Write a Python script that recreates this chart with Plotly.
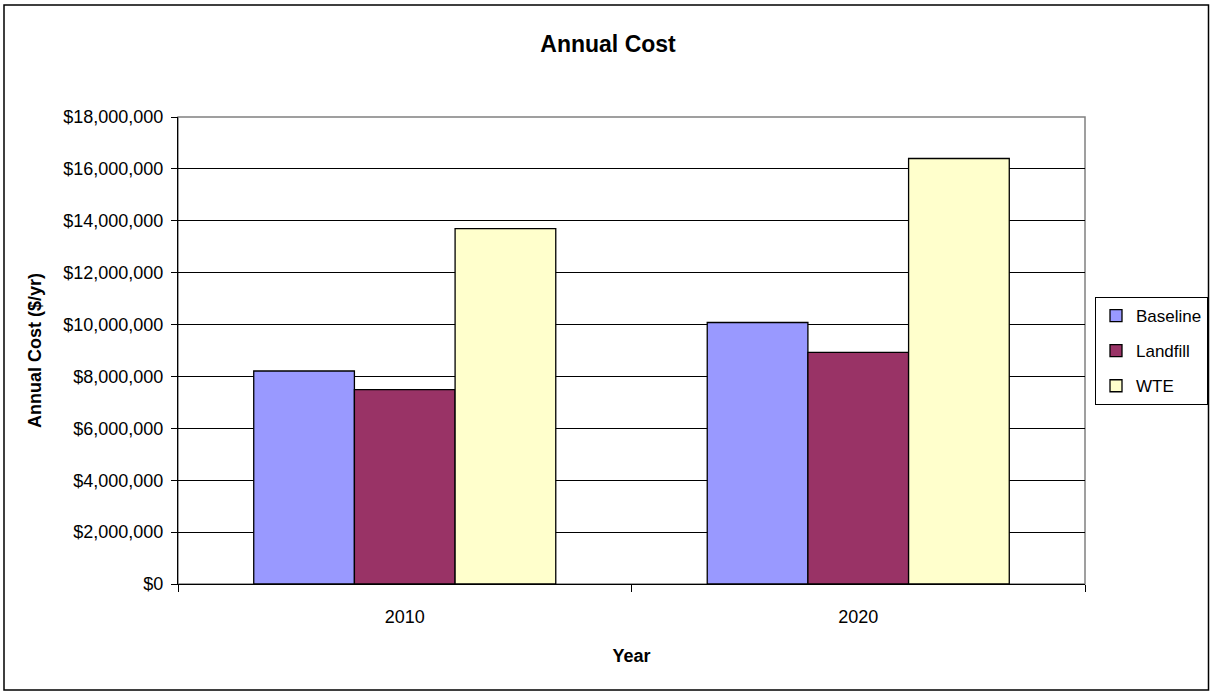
import plotly.graph_objects as go

years = ["2010", "2020"]
series_names = ["Baseline", "Landfill", "WTE"]
baseline = [8210000, 10080000]
landfill = [7490000, 8930000]
wte = [13700000, 16400000]
colors = ["#9999FF", "#993366", "#FFFFCC"]
y_ticks = list(range(0, 18000001, 2000000))

FONT = "Arial, Liberation Sans, sans-serif"

fig = go.Figure()
for name, vals, col in zip(series_names, [baseline, landfill, wte], colors):
    fig.add_trace(go.Bar(
        x=years, y=vals, name=name, legendgroup=name,
        marker=dict(color=col, line=dict(color="#000000", width=1.3)),
    ))

L, R, T, B = 178, 125, 117, 109
W, H = 1210, 693
pw, ph = W - L - R, H - T - B

def px_x(p):
    return (p - L) / pw

def px_y(p):
    return (H - B - p) / ph

fig.update_layout(
    width=W, height=H,
    margin=dict(l=L, r=R, t=T, b=B, autoexpand=False),
    paper_bgcolor="white", plot_bgcolor="white",
    font=dict(family=FONT, size=18, color="#000000"),
    barmode="group", bargap=0.334, bargroupgap=0,
    title=dict(text="<b>Annual Cost</b>", x=0.5025, xref="container",
               y=1 - 44 / H, yref="container", yanchor="middle", xanchor="center",
               font=dict(family=FONT, size=23, color="#000000")),
    legend=dict(x=px_x(1095), y=px_y(297), xanchor="left", yanchor="top",
                bordercolor="#000000", borderwidth=1, bgcolor="white",
                font=dict(family=FONT, size=17, color="#000000"),
                traceorder="grouped", tracegroupgap=10, itemwidth=30),
    showlegend=True,
)

fig.update_xaxes(
    type="category", showline=True, linecolor="#000000", linewidth=1.3,
    ticks="outside", tickson="boundaries", ticklen=7, tickcolor="#000000",
    ticklabelstandoff=16,
    showgrid=False, zeroline=False,
    title=dict(text="<b>Year</b>", standoff=23, font=dict(family=FONT, size=18)),
    tickfont=dict(family=FONT, size=18),
)
fig.update_yaxes(
    range=[0, 18000000], tickvals=y_ticks, tickformat="$,.0f",
    showline=True, linecolor="#000000", linewidth=1.3,
    ticks="outside", ticklen=6, tickcolor="#000000",
    ticklabelstandoff=4,
    showgrid=True, gridcolor="#000000", gridwidth=1, zeroline=False,
    title=dict(text="<b>Annual Cost ($/yr)</b>", standoff=16, font=dict(family=FONT, size=18)),
    tickfont=dict(family=FONT, size=18),
)

# plot area border (gray) and chart area border (black)
fig.add_shape(type="rect", xref="paper", yref="paper", x0=0, x1=1, y0=0, y1=1,
              line=dict(color="#808080", width=1.5), layer="below")
fig.add_shape(type="rect", xref="paper", yref="paper",
              x0=px_x(4), x1=px_x(1208.5), y0=px_y(690), y1=px_y(5),
              line=dict(color="#000000", width=1.5), layer="below")

fig.write_html(
    "out.html",
    config={"displayModeBar": False},
    post_script="document.body.style.margin='0';document.body.style.overflow='hidden';",
)
